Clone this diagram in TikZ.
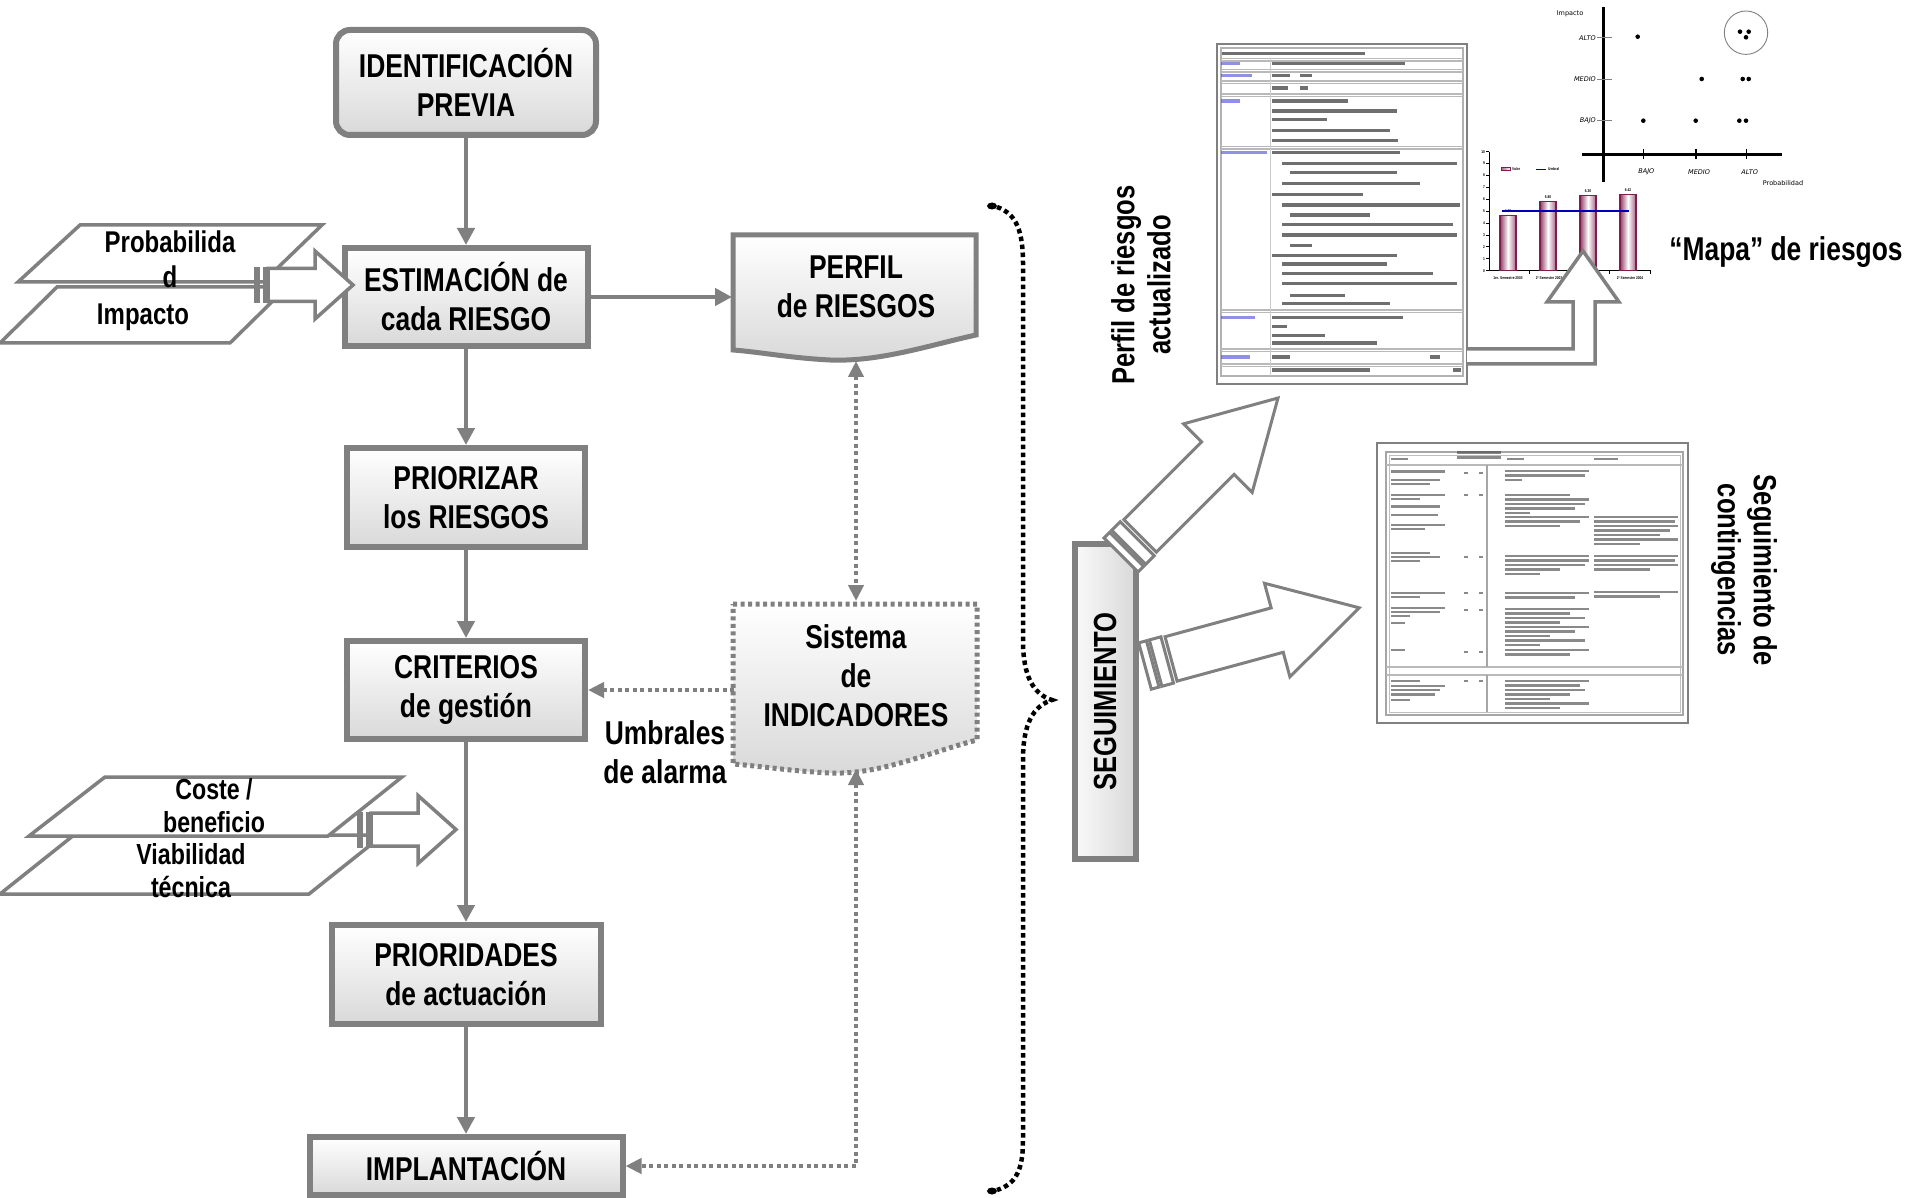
\documentclass[tikz,border=0pt]{standalone}
\usepackage{fontspec}
\usetikzlibrary{arrows.meta}
\newfontfamily\nf{Liberation Sans}[FakeStretch=0.8]
\newfontfamily\dv{DejaVu Sans}
\definecolor{lg}{RGB}{128,128,128}
\definecolor{mar}{RGB}{125,30,75}
\definecolor{lblue}{RGB}{70,70,210}
\newcommand\boxf{\nf\bfseries\fontsize{33}{39}\selectfont}
\newcommand\parf{\nf\bfseries\fontsize{30}{35}\selectfont}
\newcommand\parsf{\nf\bfseries\fontsize{29}{33}\selectfont}
\newcommand\widef{\nf\bfseries\fontsize{32}{36}\selectfont}
\newcommand\chf{\nf\bfseries\fontsize{4}{5}\selectfont}
\newcommand\scf{\dv\fontsize{6.5}{7.5}\selectfont}
\newcommand\segarrow[2]{%
\begin{scope}[shift={#1}, rotate=#2]
 \draw[bigblk] (0,-24) rectangle (8,24);
 \draw[bigblk] (11,-24) rectangle (23,24);
 \draw[bigblk] (27,-23) -- (137,-23) -- (137,-48.5) -- (222,0) -- (137,48.5) -- (137,23) -- (27,23) -- cycle;
\end{scope}}
\begin{document}
\begin{tikzpicture}[x=1pt,y=1pt,
 box/.style={draw=lg, line width=6pt, top color=white, bottom color=gray!30, align=center, inner sep=0pt, outer sep=3pt, font=\boxf},
 conn/.style={draw=lg, line width=4.5pt, -{Triangle[length=17pt,width=17pt]}},
 dconn/.style={draw=lg, line width=4.5pt, dash pattern=on 4pt off 3.5pt},
 dtip/.style={-{Triangle[length=16pt,width=15pt]}},
 dtips/.style={{Triangle[length=16pt,width=15pt]}-{Triangle[length=16pt,width=15pt]}},
 para/.style={draw=lg, line width=3.5pt, fill=white},
 blk/.style={draw=lg, line width=3.5pt, fill=white},
 bigblk/.style={draw=lg, line width=3pt, fill=white},
 lbl/.style={font=\parf, align=center, inner sep=0pt},
 lbls/.style={font=\parsf, align=center, inner sep=0pt},
 plain/.style={font=\boxf, align=center, inner sep=0pt},
 wide/.style={font=\widef, align=center, inner sep=0pt},
 txt/.style={line width=3.2pt, draw=black!75, opacity=0.75},
 txt2/.style={line width=2.8pt, draw=black!70, opacity=0.65},
 btxt/.style={line width=3.2pt, draw=lblue, opacity=0.6},
 sep/.style={line width=1.2pt, draw=gray!55},
 chb/.style={font=\chf, inner sep=0pt},
 sc/.style={font=\scf, inner sep=0pt},
 sci/.style={font=\scf\itshape, inner sep=0pt}]
\useasboundingbox (0,0) rectangle (1907,-1198);
\fill[white] (0,0) rectangle (1907,-1198);

% ---------- document 1 (perfil actualizado) ----------
\draw[lg, line width=2.5pt, fill=white] (1217,-44) rectangle (1467,-384);
\draw[gray!60, line width=1.2pt] (1221,-48) rectangle (1463,-376);
\foreach \y in {58.5,69.5,81,94,146.5,310,349,364} {
  \draw[sep] (1221,-\y) -- (1463,-\y);
  \draw[sep] (1221,{-\y-2.5}) -- (1463,{-\y-2.5});
}
\draw[gray!40, line width=1pt] (1270,-58.5) -- (1270,-376);
\draw[txt] (1222,-53.6) -- (1365,-53.6);
\foreach \y/\b in {63.8/1240, 75.6/1252, 101/1240, 152.3/1267, 317.2/1255, 357/1250}
  \draw[btxt] (1221,-\y) -- (\b,-\y);
\foreach \y/\a/\b in {63.8/1272/1405, 75.6/1272/1290, 75.6/1300/1312, 88.1/1272/1288, 88.1/1300/1308,
  101/1272/1348, 111.1/1272/1397, 119.5/1272/1327, 130.3/1272/1390, 140.8/1272/1398,
  152.3/1272/1400, 163.4/1282/1457, 172.6/1290/1397, 183.7/1282/1420, 194.9/1272/1363,
  205/1282/1460, 215.1/1290/1370, 224.3/1282/1453, 235.1/1282/1457, 245.2/1290/1312,
  255.7/1272/1397, 264.1/1282/1387, 273.2/1282/1433, 283.4/1282/1457, 295.9/1290/1345,
  303.6/1282/1390, 317.2/1272/1403, 326.6/1272/1287, 335.7/1272/1325, 343/1272/1377,
  357/1272/1290, 357/1430/1440, 370/1272/1370, 370/1453/1461}
  \draw[txt] (\a,-\y) -- (\b,-\y);

% ---------- scatter chart ----------
\draw[black, line width=3pt] (1603.3,-7.3) -- (1603.3,-181.7);
\draw[black, line width=3pt] (1581.7,-154.3) -- (1781.7,-154.3);
\foreach \y/\t [count=\k] in {37.7/ALTO, 79.3/MEDIO, 120.7/BAJO} {
  \draw[gray, line width=1.5pt] (1597,-\y) -- (1612,-\y);
  \node[sci, anchor=east] (imy\k) at (1596,-\y) {\t};
}
\foreach \x/\t [count=\k] in {1643.3/BAJO, 1696/MEDIO, 1746.7/ALTO} {
  \draw[black, line width=1.2pt] (\x,-149) -- (\x,-159);
  \node[sci] (prx\k) at ({\x+3},-171.7) {\t};
}
\node[sc] (imptit) at (1570,-14) {Impacto};
\node[sc] (probtit) at (1783,-183) {Probabilidad};
\foreach \x/\y in {1637.7/36.7, 1740/31.7, 1748.7/31.7, 1746/37.3, 1701.7/79, 1742.7/79, 1748.7/79,
  1643.3/120.7, 1695.7/120.7, 1739.3/120.7, 1746/120.7}
  \fill[black] (\x,-\y) circle (2.3);
\draw[gray, line width=0.9pt] (1746,-32.7) circle (21.7);

% ---------- bar chart ----------
\draw[black, line width=0.8pt] (1489,-151.7) -- (1489,-270.7) -- (1651,-270.7);
\foreach \i in {0,...,10} {
  \draw[black, line width=0.8pt] (1486,{-270.7+\i*11.9}) -- (1489,{-270.7+\i*11.9});
  \node[chb, anchor=east] (yt\i) at (1485,{-270.7+\i*11.9}) {\i};
}
\foreach \x in {1529,1569,1609,1650}
  \draw[black, line width=0.8pt] (\x,-270.7) -- (\x,-274.5);
\foreach \x/\v [count=\k] in {1500/4.66, 1540/5.80, 1580/6.30, 1620/6.42} {
  \draw[mar, line width=1.2pt, left color=mar!85, right color=mar!70, middle color=white]
    (\x,-270.7) rectangle ({\x+16},{-270.7+\v*11.9});
  \node[chb] (bv\k) at ({\x+8},{-270.7+\v*11.9+4.5}) {\v};
}
\draw[blue!70!black, line width=1.5pt] (1502,-211.2) -- (1629,-211.2);
\draw[mar, line width=1pt, left color=mar!70, right color=white] (1501,-167.5) rectangle (1510,-171);
\node[chb, anchor=west] (lgv) at (1512,-169.3) {Valor};
\draw[blue!70!black, line width=1.2pt] (1536,-169.3) -- (1546,-169.3);
\node[chb, anchor=west] (lgu) at (1548,-169.3) {Umbral};
\node[chb] (xl1) at (1508,-278) {1er. Semestre 2003};
\node[chb] (xl2) at (1549,-278) {2º Semestre 2003};
\node[chb] (xl3) at (1589,-278) {1er. Semestre 2004};
\node[chb] (xl4) at (1630,-278) {2º Semestre 2004};

% L-shaped arrow from document 1 to the charts
\draw[lg, line width=3.5pt, fill=white] (1467,-349) -- (1573,-349) -- (1573,-302) -- (1547,-302)
  -- (1583,-251) -- (1619,-302) -- (1595,-302) -- (1595,-364) -- (1467,-364);
\node[plain] (mapa) at (1786,-252) {“Mapa” de riesgos};
\node[wide, rotate=90] (perfact) at (1141,-285) {Perfil de riesgos\\actualizado};

% ---------- document 2 (contingencias) ----------
\draw[lg, line width=2.5pt, fill=white] (1377,-443) rectangle (1688,-723);
\draw[gray!70, line width=1.5pt] (1386,-452) rectangle (1683,-715);
\draw[gray!50, line width=1pt] (1389,-455) rectangle (1680,-712);
\draw[sep] (1386,-465) -- (1683,-465);
\draw[sep] (1386,-667) -- (1683,-667);
\draw[sep] (1386,-675) -- (1683,-675);
\draw[gray!70, line width=1.2pt] (1487,-465) -- (1487,-667);
\draw[gray!70, line width=1.2pt] (1487,-675) -- (1487,-712);
\foreach \y/\a/\b in {459/1391/1408, 459/1507/1524, 459/1594/1618, 452.5/1457/1501, 457.5/1457/1501}
  \draw[txt2] (\a,-\y) -- (\b,-\y);
\foreach \y/\b in {471.7/1445, 480/1440, 484/1430, 495/1445, 499/1420, 506.7/1440, 515/1438, 525/1445,
  529/1425, 553/1430, 557/1440, 561/1420, 593/1445, 597/1420, 608/1445, 612/1440, 616/1410,
  623/1405, 650/1405, 681/1420, 686/1445, 690/1440, 694.5/1435, 700/1410}
  \draw[txt2] (1391,-\y) -- (\b,-\y);
\foreach \y in {473,495,557,593,610,652,681} {
  \draw[txt2] (1464,-\y) -- (1468,-\y);
  \draw[txt2] (1479,-\y) -- (1483,-\y);
}
\foreach \y/\b in {471/1589, 475.5/1585, 480/1522, 495/1570, 499.5/1589, 504/1585, 508.5/1575, 513/1530,
  517/1589, 521.5/1580, 526/1560, 556/1589, 560.5/1589, 565/1585, 569.5/1560, 574/1540,
  593/1589, 597.5/1575, 609/1589, 613.5/1570, 618/1585, 622.5/1560, 627/1589, 631.5/1575,
  636/1550, 640.5/1585, 645/1540, 650/1589, 654.5/1570, 681/1589, 685.5/1580, 690/1585,
  694.5/1570, 699/1550, 703.5/1589, 708/1560}
  \draw[txt2] (1505,-\y) -- (\b,-\y);
\foreach \y/\b in {517/1678, 521.5/1675, 526/1678, 530.5/1670, 535/1660, 539.5/1678, 544/1640,
  556/1678, 560.5/1675, 565/1678, 569.5/1650, 592/1678, 596.5/1660}
  \draw[txt2] (1594,-\y) -- (\b,-\y);
\node[wide, rotate=-90] (segcont) at (1744,-570) {Seguimiento de\\contingencias};

% ---------- input parallelograms ----------
\draw[para] (57,-287) -- (287,-287) -- (230,-343) -- (0,-343) -- cycle;
\draw[para] (80,-225) -- (322,-225) -- (263,-282) -- (18,-282) -- cycle;
\draw[para] (74,-835) -- (383,-835) -- (309,-894) -- (0,-894) -- cycle;
\draw[para] (105,-777) -- (402,-777) -- (328,-836) -- (29,-836) -- cycle;
\node[lbl] (prob) at (170,-259) {Probabilida\\d};
\node[lbl] (imp) at (143,-317) {Impacto};
\node[lbls] (coste) at (214,-806) {Coste /\\beneficio};
\node[lbls] (viab) at (191,-871) {Viabilidad\\técnica};

% ---------- main flow ----------
\node[box, rounded corners=14pt, minimum width=260, minimum height=105] (ident) at (466,-82.5) {IDENTIFICACIÓN\\PREVIA};
\node[box, minimum width=243, minimum height=98] (estim) at (466,-297) {ESTIMACIÓN de\\cada RIESGO};
\node[box, minimum width=238, minimum height=99] (prior) at (466,-497.5) {PRIORIZAR\\los RIESGOS};
\node[box, minimum width=238, minimum height=98] (crit) at (466,-690) {CRITERIOS\\de gestión};
\node[box, minimum width=269, minimum height=99] (prid) at (466,-974.5) {PRIORIDADES\\de actuación};
\node[box, minimum width=313, minimum height=58] (impl) at (466,-1166) {IMPLANTACIÓN};

% document shapes
\draw[draw=lg, line width=5pt, top color=white, bottom color=gray!30]
  (733,-235) -- (976,-235) -- (976,-335) .. controls (930,-345) and (880,-362) .. (830,-360)
  .. controls (790,-358) and (760,-352) .. (733,-350) -- cycle;
\node[plain, minimum width=248, outer sep=0pt] (perfil) at (856,-287) {PERFIL\\de RIESGOS};
\draw[draw=lg, line width=5pt, dash pattern=on 4pt off 3.5pt, top color=white, bottom color=gray!30]
  (733,-604) -- (977,-604) -- (977,-740) .. controls (930,-752) and (880,-775) .. (830,-773)
  .. controls (790,-771) and (760,-766) .. (733,-764) -- cycle;
\node[plain, minimum width=244, minimum height=144, outer sep=0pt] (sist) at (856,-676) {Sistema\\de\\INDICADORES};
\node[plain] (umb) at (665,-752) {Umbrales\\de alarma};

% connectors
\draw[conn] (ident) -- (estim);
\draw[conn] (estim) -- (prior);
\draw[conn] (prior) -- (crit);
\draw[conn] (crit) -- (prid);
\draw[conn] (prid) -- (impl);
\draw[conn] (estim.east) -- (estim.east -| perfil.west);
\coordinate (pb) at (856,-361);
\coordinate (sb) at (856,-769);
\draw[dconn, dtips, shorten >=3pt] (pb) -- (pb |- sist.north);
\draw[dconn, dtip] (sist.west |- crit.east) -- (crit.east);
\draw[dconn, dtips] (sb) |- (impl.east);

% small striped block arrows
\fill[lg] (254,-267) rectangle (260,-303);
\fill[lg] (263,-267) rectangle (268,-303);
\draw[blk] (268,-268.5) -- (315,-268.5) -- (315,-251) -- (353,-285) -- (315,-319) -- (315,-301.5) -- (268,-301.5) -- cycle;
\fill[lg] (357,-811.5) rectangle (363,-847.5);
\fill[lg] (366,-811.5) rectangle (371,-847.5);
\draw[blk] (371,-813) -- (418,-813) -- (418,-795.5) -- (456,-829.5) -- (418,-863.5) -- (418,-846) -- (371,-846) -- cycle;

% ---------- brace ----------
\draw[black, line width=4.5pt, dash pattern=on 4.5pt off 3.5pt]
  (997,-207) .. controls (1017,-214) and (1023,-232) .. (1023,-264) -- (1023,-640)
  .. controls (1023,-676) and (1033,-694) .. (1052,-700)
  .. controls (1033,-706) and (1023,-724) .. (1023,-760) -- (1023,-1140)
  .. controls (1023,-1170) and (1016,-1184) .. (997,-1190);
\fill[black] (992,-206) ellipse (5 and 3.5);
\fill[black] (992,-1191) ellipse (5 and 3.5);

% ---------- seguimiento ----------
\node[draw=lg, line width=6pt, outer sep=3pt, inner sep=0pt, rotate=90, minimum width=315, minimum height=61,
  left color=gray!4, right color=gray!30, font=\widef] (seg) at (1105,-701.5) {SEGUIMIENTO};
\segarrow{(1121,-555)}{45}
\segarrow{(1145,-666)}{15.2}
\end{tikzpicture}
\end{document}
